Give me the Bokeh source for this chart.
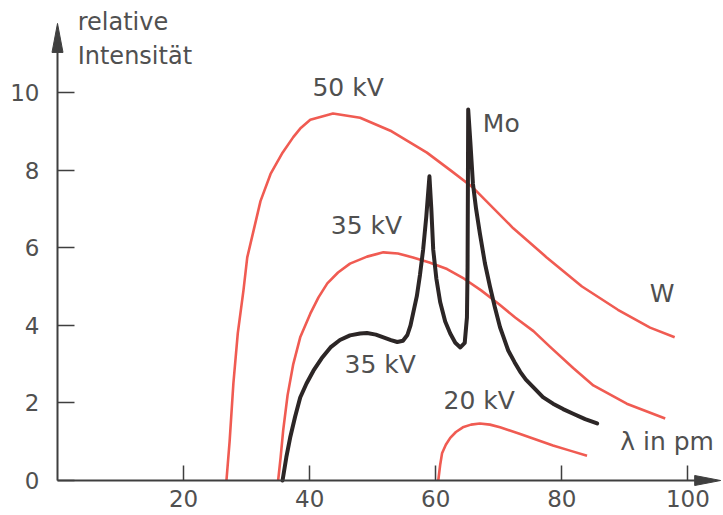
from bokeh.plotting import figure
from bokeh.models import Range1d, FixedTicker
from bokeh.core.properties import value
from bokeh.embed import file_html
from bokeh.resources import INLINE

# ---------------- data ----------------
w50_x = [26.8, 27.3, 27.9, 28.6, 29.5, 30.1, 31.1, 32.2, 33.8, 35.7, 37.4, 38.5, 40.1,
         43.7, 48.0, 53.0, 58.6, 62.3, 65.9, 72.3, 77.6, 83.2, 88.9, 94.0, 97.9]
w50_y = [0.0, 1.0, 2.5, 3.8, 4.9, 5.75, 6.44, 7.2, 7.9, 8.45, 8.85, 9.07, 9.3,
         9.46, 9.35, 9.0, 8.45, 8.0, 7.55, 6.5, 5.75, 5.0, 4.4, 3.94, 3.69]

w35_x = [35.0, 35.4, 35.8, 36.5, 37.4, 38.5, 40.1, 41.4, 42.8, 44.5, 46.4, 49.1, 51.7,
         54.0, 56.4, 59.0, 61.8, 64.5, 67.2, 70.0, 72.6, 75.5, 78.1, 81.8, 85.0, 90.3,
         96.4]
w35_y = [0.0, 0.6, 1.29, 2.2, 3.0, 3.69, 4.3, 4.72, 5.08, 5.36, 5.59, 5.77, 5.88,
         5.85, 5.75, 5.62, 5.45, 5.2, 4.9, 4.55, 4.2, 3.85, 3.45, 2.9, 2.45, 1.98,
         1.6]

w20_x = [60.4, 60.7, 61.0, 61.6, 62.3, 63.2, 64.3, 65.6, 67.0, 68.6, 70.2, 73.4, 76.0,
         78.6, 81.3, 84.0]
w20_y = [0.0, 0.4, 0.7, 0.92, 1.1, 1.25, 1.37, 1.44, 1.47, 1.44, 1.37, 1.2, 1.05,
         0.9, 0.77, 0.64]

mo_x = [35.7, 36.3, 36.9, 37.7, 38.5, 39.5, 40.6, 41.9, 43.3, 44.8, 46.4, 48.0, 49.1,
        50.5, 51.7, 52.9, 53.9, 54.8, 55.5, 56.0, 56.4, 57.0, 57.5, 58.0, 58.5, 59.0,
        59.3, 59.6, 60.1, 60.7, 61.5, 62.3, 63.1, 63.9, 64.6, 64.95, 65.05, 65.1, 65.15,
        65.5, 65.9, 66.4, 67.0, 67.8, 68.6, 69.4, 70.2, 70.7, 71.5, 72.5, 73.4, 74.3,
        75.5, 77.0, 78.6, 80.2, 81.8, 83.7, 85.6]
mo_y = [0.0, 0.6, 1.1, 1.65, 2.14, 2.5, 2.83, 3.15, 3.43, 3.62, 3.74, 3.79, 3.8,
        3.76, 3.69, 3.62, 3.57, 3.6, 3.75, 4.0, 4.3, 4.75, 5.3, 5.95, 6.8, 7.84,
        7.0, 5.95, 5.2, 4.6, 4.1, 3.79, 3.55, 3.43, 3.55, 4.2, 5.5, 7.5, 9.56,
        8.7, 7.65, 7.0, 6.37, 5.6, 5.0, 4.45, 3.95, 3.72, 3.35, 3.05, 2.8, 2.6,
        2.4, 2.15, 1.98, 1.84, 1.72, 1.58, 1.47]

x_ticks = [20, 40, 60, 80, 100]
y_ticks = [0, 2, 4, 6, 8, 10]

label_text = ["50 kV", "35 kV", "35 kV", "20 kV", "Mo", "W", "\u03bb in pm"]
label_x = [46.1, 49.0, 51.2, 66.9, 70.4, 95.9, 96.7]
label_y = [10.14, 6.57, 3.0, 2.07, 9.21, 4.83, 1.0]

title_lines = ["relative", "Intensit\u00e4t"]
title_x = [3.2, 3.2]
title_y = [11.82, 10.93]

# ---------------- layout ----------------
W, H = 723, 515
X0_PX, Y0_PX = 57, 480           # canvas position of the origin
PX_X, PX_Y = 6.304, 38.8         # pixels per data unit
AX_X_END = 105.2
AX_Y_END = 11.78

RED = "#f05b52"
BLACK = "#2c2626"
AXC = "#3f3f3f"
TXT = "#505050"
FONT = "DejaVu Sans"

p = figure(width=W, height=H,
           x_range=Range1d(-X0_PX / PX_X, (W - X0_PX) / PX_X),
           y_range=Range1d(-(H - Y0_PX) / PX_Y, Y0_PX / PX_Y),
           output_backend="svg", toolbar_location=None, min_border=0)
p.outline_line_color = None
p.grid.visible = False
p.background_fill_color = "white"

for ax, ticks, bound_end, tick_in, standoff in (
        (p.xaxis[0], x_ticks, AX_X_END - 3, 15, 9),
        (p.yaxis[0], y_ticks, AX_Y_END - 0.5, 17, 18)):
    ax.fixed_location = 0
    ax.ticker = FixedTicker(ticks=ticks)
    ax.bounds = (0, bound_end)
    ax.axis_line_color = AXC
    ax.axis_line_width = 2
    ax.major_tick_line_color = AXC
    ax.major_tick_line_width = 1.5
    ax.major_tick_in = tick_in
    ax.major_tick_out = 0
    ax.minor_tick_line_color = None
    ax.major_label_standoff = standoff
    ax.major_label_text_font = FONT
    ax.major_label_text_font_size = "23px"
    ax.major_label_text_color = TXT

# arrow heads of the axes (sizes in pixels converted to data units)
p.patch([AX_X_END, AX_X_END - 26 / PX_X, AX_X_END - 26 / PX_X],
        [0, 5 / PX_Y, -5 / PX_Y], color=AXC, line_width=1)
p.patch([0, 5.5 / PX_X, -5.5 / PX_X],
        [AX_Y_END, AX_Y_END - 29 / PX_Y, AX_Y_END - 29 / PX_Y], color=AXC, line_width=1)

# curves
p.line(w50_x, w50_y, line_color=RED, line_width=2.6, line_join="round")
p.line(w35_x, w35_y, line_color=RED, line_width=2.6, line_join="round")
p.line(w20_x, w20_y, line_color=RED, line_width=2.6, line_join="round")
p.line(mo_x, mo_y, line_color=BLACK, line_width=4, line_join="round", line_cap="round")

# texts
p.text(x=label_x, y=label_y, text=label_text, text_font=value(FONT),
       text_font_size="25px", text_color=TXT,
       text_align="center", text_baseline="middle")
p.text(x=title_x, y=title_y, text=title_lines, text_font=value(FONT),
       text_font_size="24px", text_color=TXT,
       text_align="left", text_baseline="middle")

open("out.html", "w").write(file_html(p, INLINE))
